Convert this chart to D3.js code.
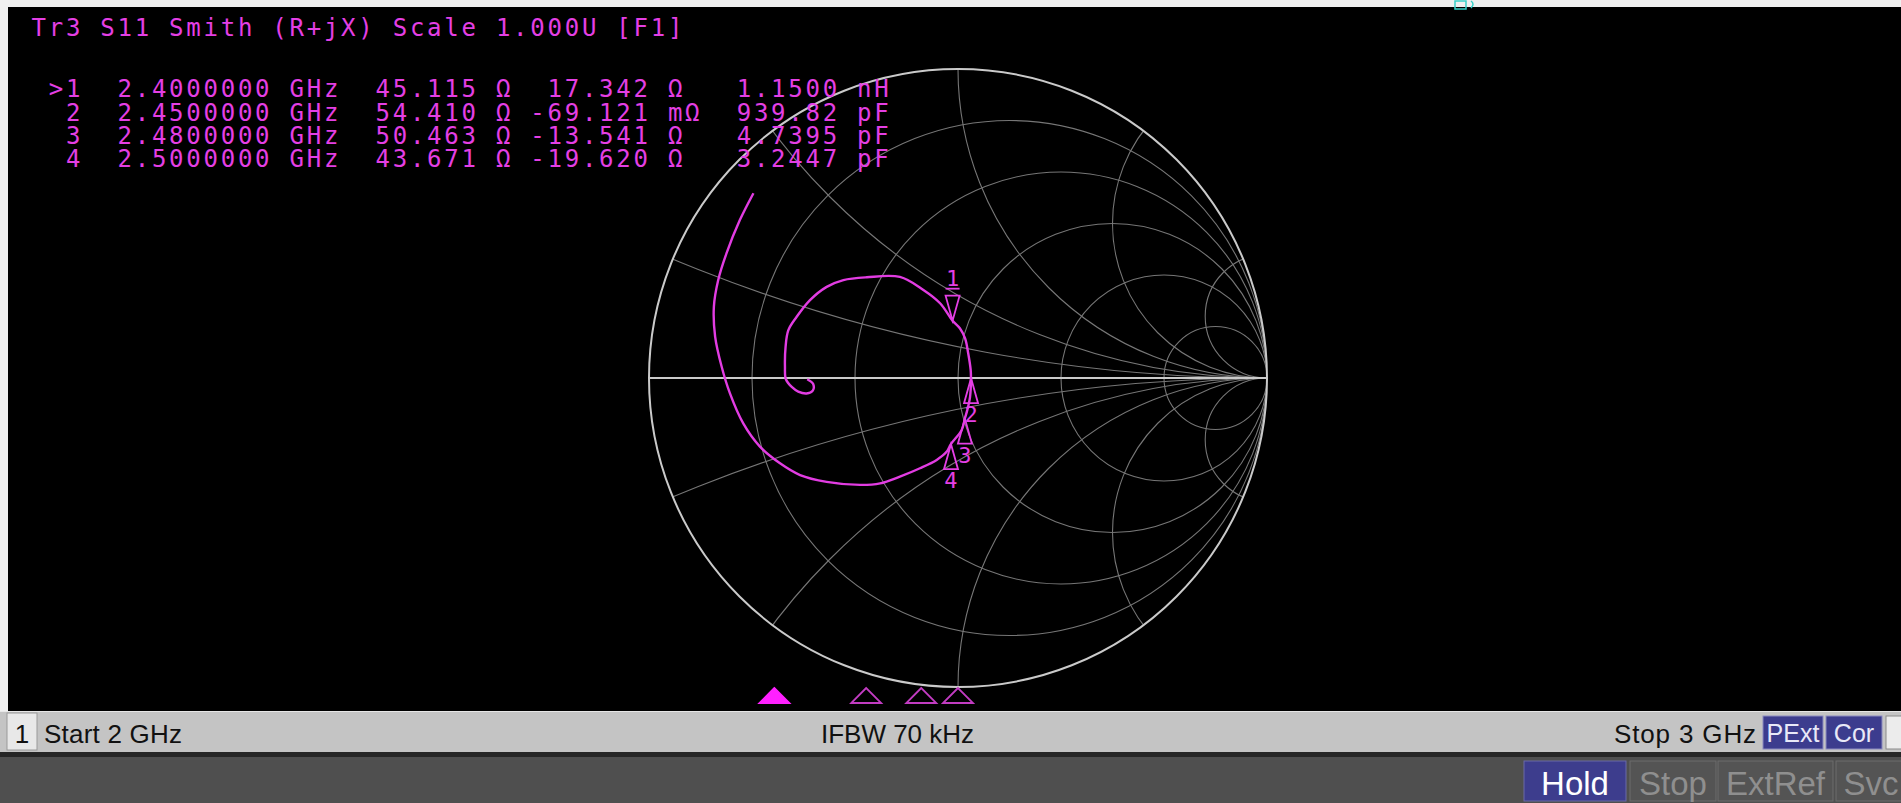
<!DOCTYPE html>
<html>
<head>
<meta charset="utf-8">
<script src="https://cdn.jsdelivr.net/npm/d3@7"></script>
<style>
  html, body { margin: 0; padding: 0; background: #f0f0f0; overflow: hidden; }
  svg { display: block; }
  .mono { font-family: 'DejaVu Sans Mono', 'Liberation Mono', monospace; }
  .ui { font-family: 'Liberation Sans', Arial, sans-serif; }
</style>
</head>
<body>
<div id="chart"></div>
<script>
// ---- data ----
const traceTitle = ['Tr3', 'S11', 'Smith', '(R+jX)', 'Scale', '1.000U', '[F1]']
const startGHz = 2
const stopGHz = 3
const markerIds = ['1', '2', '3', '4']
const markerFreq = [2.40, 2.45, 2.48, 2.50]
const markerR = [45.115, 54.410, 50.463, 43.671]
const markerX = [17.342, -0.069121, -13.541, -19.620]
const markerLC = ['1.1500', '939.82', '4.7395', '3.2447']
const markerLCUnit = ['nH', 'pF', 'pF', 'pF']
const activeMarker = 0

// S11 trace, reflection coefficient (re, im), 2 GHz -> 3 GHz
const traceRe = [-0.488, -0.469, -0.470, -0.490, -0.517, -0.538, -0.557, -0.560, -0.558, -0.549,
  -0.522, -0.479, -0.425, -0.371, -0.295, -0.188, -0.112, -0.058, -0.0175, 0.006,
  0.023, 0.033, 0.041, 0.042, 0.039, 0.030, 0.022, 0.012, -0.023, -0.037,
  -0.069, -0.123, -0.188, -0.252, -0.317, -0.425, -0.511, -0.576, -0.641, -0.695,
  -0.738, -0.765, -0.786, -0.790, -0.776, -0.749, -0.706, -0.662]
const traceIm = [-0.004, -0.019, -0.041, -0.050, -0.044, -0.029, -0.004, 0.037, 0.101, 0.155,
  0.198, 0.252, 0.295, 0.317, 0.326, 0.327, 0.285, 0.242, 0.1855, 0.161,
  0.128, 0.080, 0.026, 0.000, -0.061, -0.104, -0.132, -0.168, -0.214, -0.239,
  -0.265, -0.292, -0.319, -0.341, -0.346, -0.336, -0.314, -0.276, -0.222, -0.147,
  -0.050, 0.037, 0.134, 0.231, 0.317, 0.404, 0.511, 0.598]

// Smith grid values
const rCircles = [0.2, 0.5, 1, 2, 5]
const xArcs = [0.2, 0.5, 1, 2, 5, -0.2, -0.5, -1, -2, -5]

// status / softkey bar
const statusLeft = 'Start 2 GHz'
const statusMid = 'IFBW 70 kHz'
const statusRight = 'Stop 3 GHz'
const statusFlags = ['PExt', 'Cor']
const softKeys = ['Hold', 'Stop', 'ExtRef', 'Svc']
const softKeyOn = [true, false, false, false]

// ---- layout ----
const width = 1901
const height = 803
const screen = {left: 8, top: 7, right: 1901, bottom: 711}
const smith = {cx: 958, cy: 378, r: 309}
const textColor = '#e43fe4'
const traceColor = '#e23ce2'
const z0 = 50

const svg = d3.select('#chart').append('svg')
  .attr('width', width)
  .attr('height', height)

svg.append('rect')
  .attr('width', width).attr('height', height)
  .attr('fill', '#f0f0f0')

svg.append('rect')
  .attr('x', screen.left).attr('y', screen.top)
  .attr('width', screen.right - screen.left)
  .attr('height', screen.bottom - screen.top)
  .attr('fill', '#000')

// gamma-plane scales
const gx = d3.scaleLinear().domain([-1, 1]).range([smith.cx - smith.r, smith.cx + smith.r])
const gy = d3.scaleLinear().domain([-1, 1]).range([smith.cy + smith.r, smith.cy - smith.r])
const gLen = v => gx(v) - gx(0)
const fx = d3.scaleLinear().domain([startGHz, stopGHz]).range([40, 1876])

function gamma (r, x) {
  const a = r / z0
  const b = x / z0
  const den = (a + 1) * (a + 1) + b * b
  return [(a * a + b * b - 1) / den, (2 * b) / den]
}

// ---- grid ----
svg.append('clipPath').attr('id', 'unit')
  .append('circle')
  .attr('cx', gx(0)).attr('cy', gy(0)).attr('r', gLen(1))

const grid = svg.append('g').attr('class', 'grid').attr('clip-path', 'url(#unit)')

grid.selectAll('circle.r')
  .data(rCircles)
  .enter().append('circle')
  .attr('class', 'r')
  .attr('cx', d => gx(d / (1 + d)))
  .attr('cy', gy(0))
  .attr('r', d => gLen(1 / (1 + d)))
  .attr('fill', 'none')
  .attr('stroke', '#767676')
  .attr('stroke-width', 1.1)

grid.selectAll('circle.x')
  .data(xArcs)
  .enter().append('circle')
  .attr('class', 'x')
  .attr('cx', gx(1))
  .attr('cy', d => gy(1 / d))
  .attr('r', d => gLen(1 / Math.abs(d)))
  .attr('fill', 'none')
  .attr('stroke', '#767676')
  .attr('stroke-width', 1.1)

svg.append('line')
  .attr('x1', gx(-1)).attr('x2', gx(1))
  .attr('y1', gy(0)).attr('y2', gy(0))
  .attr('stroke', '#cacaca')
  .attr('stroke-width', 2)

svg.append('circle')
  .attr('cx', gx(0)).attr('cy', gy(0)).attr('r', gLen(1))
  .attr('fill', 'none')
  .attr('stroke', '#cacaca')
  .attr('stroke-width', 2)

// ---- trace ----
const tracePts = traceRe.map((d, i) => [d, traceIm[i]])
const line = d3.line()
  .x(d => gx(d[0]))
  .y(d => gy(d[1]))
  .curve(d3.curveCatmullRom.alpha(0.5))

svg.append('path')
  .datum(tracePts)
  .attr('d', line)
  .attr('fill', 'none')
  .attr('stroke', traceColor)
  .attr('stroke-width', 2.4)

// ---- markers on the trace ----
const markers = markerIds.map((id, i) => {
  const g = gamma(markerR[i], markerX[i])
  return {id: id, f: markerFreq[i], px: gx(g[0]), py: gy(g[1]), active: i === activeMarker}
})

const mG = svg.append('g').attr('class', 'markers')
markers.forEach(m => {
  const hw = 7
  const h = 25
  if (m.active) {
    mG.append('path')
      .attr('d', `M${m.px},${m.py} L${m.px - hw},${m.py - h} L${m.px + hw},${m.py - h} Z`)
      .attr('fill', 'none').attr('stroke', textColor).attr('stroke-width', 1.8)
    mG.append('line')
      .attr('x1', m.px - hw).attr('x2', m.px + hw)
      .attr('y1', m.py - h - 7).attr('y2', m.py - h - 7)
      .attr('stroke', textColor).attr('stroke-width', 1.8)
    mG.append('text').attr('class', 'mono')
      .attr('x', m.px).attr('y', m.py - h - 10)
      .attr('text-anchor', 'middle')
      .attr('font-size', 22).attr('fill', textColor)
      .text(m.id)
  } else {
    mG.append('path')
      .attr('d', `M${m.px},${m.py} L${m.px - hw},${m.py + h} L${m.px + hw},${m.py + h} Z`)
      .attr('fill', 'none').attr('stroke', textColor).attr('stroke-width', 1.8)
    mG.append('text').attr('class', 'mono')
      .attr('x', m.px).attr('y', m.py + h + 19)
      .attr('text-anchor', 'middle')
      .attr('font-size', 22).attr('fill', textColor)
      .text(m.id)
  }
})

// ---- frequency-axis marker triangles ----
const fG = svg.append('g').attr('class', 'freq-markers')
markers.forEach(m => {
  const x = fx(m.f)
  fG.append('path')
    .attr('d', `M${x},688 L${x - 15},703 L${x + 15},703 Z`)
    .attr('fill', m.active ? '#ff20ff' : 'none')
    .attr('stroke', m.active ? '#ff20ff' : '#c23cc2')
    .attr('stroke-width', 1.8)
})

// ---- readout text ----
const pitch = 17.2
const x0 = 31.5
const fontSize = 24
const spacing = pitch - 0.602 * fontSize

function putCols (y, parts) {
  const t = svg.append('text').attr('class', 'mono')
    .attr('y', y)
    .attr('font-size', fontSize)
    .attr('letter-spacing', spacing)
    .attr('fill', textColor)
  parts.forEach(p => {
    t.append('tspan').attr('x', x0 + p[0] * pitch).text(p[1])
  })
}

const titleCols = [0, 4, 8, 14, 21, 27, 34]
putCols(36, traceTitle.map((s, i) => [titleCols[i], s]))

const rowY = [97, 121, 144, 167]
markers.forEach((m, i) => {
  const xv = markerX[i]
  let xs, xu
  if (Math.abs(xv) < 1) {
    xs = (xv * 1000).toFixed(3)
    xu = 'mΩ'
  } else {
    xs = xv.toFixed(3)
    xu = 'Ω'
  }
  const parts = []
  parts.push([2, m.id])
  parts.push([5, m.f.toFixed(7)])
  parts.push([15, 'GHz'])
  parts.push([20, markerR[i].toFixed(3)])
  parts.push([27, 'Ω'])
  parts.push([36 - xs.length, xs])
  parts.push([37, xu])
  parts.push([41, markerLC[i]])
  parts.push([48, markerLCUnit[i]])
  if (m.active) parts[0] = [1, '>' + m.id]
  putCols(rowY[i], parts)
})

// small cyan glyph at top edge
svg.append('rect')
  .attr('x', 1455).attr('y', 1).attr('width', 11).attr('height', 8)
  .attr('fill', 'none').attr('stroke', '#38d0c8').attr('stroke-width', 1.5)
svg.append('path')
  .attr('d', 'M1471,1 q4,3 0,7')
  .attr('fill', 'none').attr('stroke', '#38d0c8').attr('stroke-width', 1.5)

// ---- status bar ----
const sb = svg.append('g').attr('class', 'ui')
sb.append('rect').attr('x', 0).attr('y', 711).attr('width', width).attr('height', 41).attr('fill', '#c4c4c4')
sb.append('line').attr('x1', 0).attr('x2', width).attr('y1', 711.5).attr('y2', 711.5).attr('stroke', '#e6e6e6')
sb.append('rect').attr('x', 0).attr('y', 752).attr('width', width).attr('height', 5).attr('fill', '#262626')
sb.append('rect').attr('x', 0).attr('y', 757).attr('width', width).attr('height', 46).attr('fill', '#4f4f4f')

sb.append('rect').attr('x', 7).attr('y', 713).attr('width', 30).attr('height', 37)
  .attr('fill', '#e8e8e8').attr('stroke', '#9a9a9a')
sb.append('text').attr('x', 22).attr('y', 743).attr('text-anchor', 'middle')
  .attr('font-size', 26).attr('fill', '#111').text('1')
sb.append('text').attr('x', 44).attr('y', 743)
  .attr('font-size', 26).attr('fill', '#111').attr('textLength', 138).text(statusLeft)
sb.append('text').attr('x', 821).attr('y', 743)
  .attr('font-size', 26).attr('fill', '#111').attr('textLength', 153).text(statusMid)
sb.append('text').attr('x', 1614).attr('y', 743)
  .attr('font-size', 26).attr('fill', '#111').attr('textLength', 142).text(statusRight)

const flagX = [1763, 1826]
const flagW = [60, 56]
statusFlags.forEach((f, i) => {
  sb.append('rect').attr('x', flagX[i]).attr('y', 716).attr('width', flagW[i]).attr('height', 33)
    .attr('fill', '#3c3c8e').attr('stroke', '#8a8ac0')
  sb.append('text').attr('x', flagX[i] + flagW[i] / 2).attr('y', 742)
    .attr('text-anchor', 'middle').attr('font-size', 25).attr('fill', '#e8e8f8')
    .text(f)
})
sb.append('rect').attr('x', 1886).attr('y', 716).attr('width', 20).attr('height', 33)
  .attr('fill', '#ececec').attr('stroke', '#8a8a8a')

// ---- softkeys ----
const keyX = [1524, 1630, 1718, 1836]
const keyW = [102, 86, 115, 70]
softKeys.forEach((k, i) => {
  sb.append('rect').attr('x', keyX[i]).attr('y', 761).attr('width', keyW[i]).attr('height', 40)
    .attr('fill', softKeyOn[i] ? '#3d3d8d' : '#545454')
    .attr('stroke', softKeyOn[i] ? '#6a6aa8' : '#6c6c6c')
  sb.append('text').attr('x', keyX[i] + keyW[i] / 2).attr('y', 795)
    .attr('text-anchor', 'middle').attr('font-size', 33)
    .attr('fill', softKeyOn[i] ? '#ffffff' : '#8f8f8f')
    .text(k)
})
</script>
</body>
</html>
